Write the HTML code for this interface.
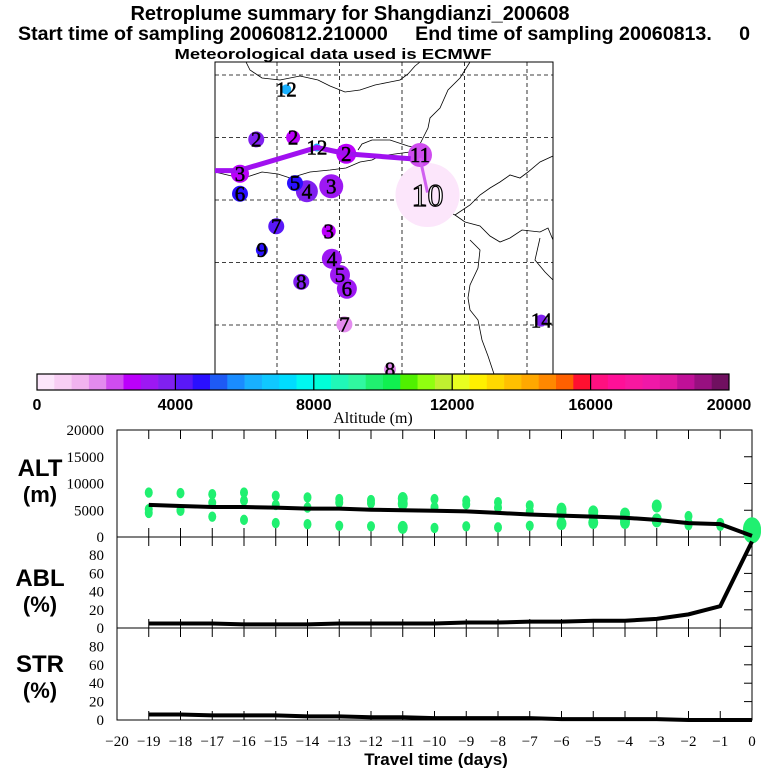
<!DOCTYPE html>
<html><head><meta charset="utf-8"><style>
html,body{margin:0;padding:0;background:#fff;}
svg{display:block;}
text{font-family:"Liberation Sans",sans-serif;}
.t{font-weight:bold;}
.s{font-family:"Liberation Serif",serif;}
</style></head><body>
<svg id="c" width="768" height="768" viewBox="0 0 768 768" xmlns="http://www.w3.org/2000/svg">
<rect width="768" height="768" fill="#fff"/>
<text class="t" x="350" y="20" font-size="20" text-anchor="middle">Retroplume summary for Shangdianzi_200608</text>
<text class="t" x="384" y="40" font-size="19" text-anchor="middle" textLength="732" lengthAdjust="spacingAndGlyphs" xml:space="preserve">Start time of sampling 20060812.210000     End time of sampling 20060813.     0</text>
<text class="t" x="333" y="59" font-size="15" text-anchor="middle" textLength="317" lengthAdjust="spacingAndGlyphs">Meteorological data used is ECMWF</text>
<g id="map"></g>
<g id="cbar"></g>
<g id="plots"></g>
</svg>
<script>
// ---- data ----
const cbColors=["#fce6fb","#f8cef4","#f1b3ef","#e38bee","#cf4cef","#bb00fb","#9d18f3","#8020f0",
"#5a18f8","#2a10ff","#1e5af5","#1a8cff","#18b0ff","#10c8ff","#00dcff","#00f8f0",
"#00ffd8","#20f8b8","#30f8a0","#20f070","#10f050","#50f000","#90ff10","#c0f030",
"#e8ff20","#fff000","#ffd800","#ffc000","#ffa800","#ff8800","#ff6000","#ff1030",
"#ff1080","#ff1098","#f818a0","#f018a8","#e018a0","#c01098","#981080","#701060"];
const cbTicks=[0,4000,8000,12000,16000,20000];
// map points in grid units (1 unit = one grid cell)
const ptLabel=["12","2","2","12","2","11","3","6","5","4","3","10","7","3","9","4","5","6","8","7","14","8"];
const ptGX=[1.14,0.66,1.25,1.63,2.10,3.28,0.40,0.40,1.28,1.47,1.86,3.40,0.98,1.82,0.75,1.87,2.00,2.11,1.38,2.07,5.22,2.80];
const ptGY=[4.65,3.85,3.88,3.72,3.62,3.60,3.30,2.98,3.15,3.02,3.10,2.96,2.46,2.38,2.08,1.94,1.68,1.46,1.57,0.89,0.95,0.17];
const ptAlt=[6200,3800,2800,6200,2500,2200,2500,4500,4500,3500,3300,200,4300,2500,4500,3000,3200,3000,3800,1900,3800,1800];
const ptR=[5,8,7,4,10,12,9,8,8,11,12,32,8,7,6,10,10,10,8,8,6,6];
const trajGX=[0,0.40,0.48,1.63,2.10,3.13];
const trajGY=[3.35,3.35,3.38,3.72,3.62,3.54];
// time series
const days=[-19,-18,-17,-16,-15,-14,-13,-12,-11,-10,-9,-8,-7,-6,-5,-4,-3,-2,-1,0];
const altMean=[6000,5800,5600,5600,5500,5300,5300,5100,5000,4900,4800,4500,4200,4000,3800,3600,3200,2600,2400,200];
const ablPct=[5,5,5,4,4,4,5,5,5,5,6,6,7,7,8,8,10,15,24,95];
const strPct=[6,6,5,5,5,4,4,3,3,2,2,2,2,1,1,1,1,0,0,0];
const dotHi=[8300,8200,8000,8300,7700,7400,7100,6900,7200,7100,6800,6500,5900,5200,4700,4300,5800,3900,2600,1500];
const dotMid=[5200,5000,6400,6800,6000,5500,6400,6300,6200,5600,6100,5500,4800,4500,4000,3200,3000,2700,2300,1000];
const dotLo=[4500,4900,3800,3200,2600,2400,2100,2000,1800,1700,2000,1800,2100,2500,2700,2700,3200,2200,2100,1300];
const dotR=[4,4,4,4,4,4,4,4,5,4,4,4,4,5,5,5,5,4,4,9];
const altTicks=[0,5000,10000,15000,20000];
const pctTicks=[0,20,40,60,80];
const dayTicks=[-20,-19,-18,-17,-16,-15,-14,-13,-12,-11,-10,-9,-8,-7,-6,-5,-4,-3,-2,-1,0];

const NS="http://www.w3.org/2000/svg";
function mk(tag,attrs,parent,txt){const e=document.createElementNS(NS,tag);for(const k in attrs)e.setAttribute(k,attrs[k]);if(txt!==undefined)e.textContent=txt;parent.appendChild(e);return e;}
function colorFor(a){let i=Math.floor(a/500);if(i<0)i=0;if(i>39)i=39;return cbColors[i];}

// ---- map ----
const map=document.getElementById('map');
const MX0=215,MX1=553,MY0=62,MY1=374,CELL=62.5;
const gx=g=>MX0+g*CELL, gy=g=>MY1-g*CELL+6;
mk('rect',{x:MX0,y:MY0,width:MX1-MX0,height:MY1-MY0,fill:'#fff',stroke:'#000','stroke-width':1},map);
const coasts=["M246,62 L250,70 L262,78 L280,80 L300,76 L318,80 L330,86 L345,92 L360,90 L375,85 L390,82 L400,80 L408,74 L415,66 L420,62",
"M470,62 L460,78 L448,90 L440,108 L430,118 L428,128 L422,140 L418,148 L408,146 L390,140 L372,140 L362,144 L358,150",
"M215,172 L240,178 L250,176 L262,172 L278,174 L290,178 L310,172 L330,170 L346,168 L360,162 L372,160 L380,156 L395,154 L410,152",
"M440,176 L450,184 L452,200 L445,210 L455,215 L470,205 L480,195 L490,188 L500,182 L510,175 L520,178 L528,172 L540,162 L553,156",
"M455,215 L465,222 L480,226 L490,236 L500,242 L510,238 L522,230 L540,232 L548,228 L553,240",
"M470,240 L480,250 L478,268 L470,285 L468,298 L470,310 L478,320 L482,340 L488,356 L494,374",
"M540,238 L535,260 L545,272 L553,280"];
coasts.forEach(d=>{const p=mk('path',{d:d,fill:'none',stroke:'#000','stroke-width':0.8},map);});
for(let i=1;i<=5;i++){const x=MX0+i*62.5-0.5;const l=mk('line',{x1:x,y1:MY0,x2:x,y2:MY1,stroke:'#000','stroke-dasharray':'4,3','stroke-width':0.8},map);}
for(let i=0;i<5;i++){const y=75+i*62.5;const l=mk('line',{x1:MX0,y1:y,x2:MX1,y2:y,stroke:'#000','stroke-dasharray':'4,3','stroke-width':0.8},map);}
const order=ptLabel.map((_,i)=>i).sort((a,b)=>ptR[b]-ptR[a]);
order.forEach(i=>{const c=mk('circle',{cx:gx(ptGX[i]),cy:gy(ptGY[i]),r:ptR[i],fill:colorFor(ptAlt[i])},map);});
let td="";trajGX.forEach((g,i)=>{td+=(i?"L":"M")+gx(g)+","+gy(trajGY[i])+" ";});
const tr=mk('path',{d:td,fill:'none',stroke:'#a010f0','stroke-width':5},map);


const tail=mk('line',{x1:gx(3.28),y1:gy(3.55),x2:gx(3.40),y2:gy(3.0),stroke:'#d060f0','stroke-width':3},map);


order.forEach(i=>{const big=ptR[i]>20;const t=mk('text',{x:gx(ptGX[i]),y:gy(ptGY[i])+(big?11:7),'font-size':big?32:21,'text-anchor':'middle',class:'s',fill:big?'#fff':'#000',stroke:'#000','stroke-width':big?1.2:0.5},map,ptLabel[i]);});

// ---- colorbar ----
const cb=document.getElementById('cbar');
const CX0=37,CX1=729,CY=374,CH=16;
const cbx=v=>CX0+(CX1-CX0)*v/20000;
cbColors.forEach((col,i)=>{const r=mk('rect',{x:cbx(i*500),y:CY,width:cbx((i+1)*500)-cbx(i*500)+0.3,height:CH,fill:col},cb);});
mk('rect',{x:CX0,y:CY,width:CX1-CX0,height:CH,fill:'none',stroke:'#000','stroke-width':1.2},cb);
cbTicks.forEach(v=>{if(v>0&&v<20000)mk('line',{x1:cbx(v),y1:CY,x2:cbx(v),y2:CY+CH,stroke:'#000','stroke-width':1.2},cb);
const t=mk('text',{x:cbx(v),y:410,'font-size':16,'text-anchor':'middle',class:'t'},cb,String(v));});
const at=mk('text',{x:373,y:423,'font-size':16,'text-anchor':'middle',class:'s'},cb,'Altitude (m)');



// ---- time series ----
const P=document.getElementById('plots');
const PX0=117,PX1=752;
const px=d=>PX0+(d+20)*(PX1-PX0)/20;
const panels=[{top:430,bot:537,max:20000,ticks:altTicks,name:'alt'},{top:537,bot:628,max:100,ticks:pctTicks,name:'abl'},{top:628,bot:720,max:100,ticks:pctTicks,name:'str'}];
panels.forEach(p=>{
  p.y=v=>p.bot-(p.bot-p.top)*v/p.max;
  mk('rect',{x:PX0,y:p.top,width:PX1-PX0,height:p.bot-p.top,fill:'none',stroke:'#000','stroke-width':1},P);
  dayTicks.forEach(d=>{mk('line',{x1:px(d),y1:p.bot,x2:px(d),y2:p.bot-9,stroke:'#000'},P);mk('line',{x1:px(d),y1:p.top,x2:px(d),y2:p.top+9,stroke:'#000'},P);});
  p.ticks.forEach(v=>{const y=p.y(v);mk('line',{x1:PX1,y1:y,x2:PX1-8,y2:y,stroke:'#000'},P);
    const t=mk('text',{x:104,y:y+5,'font-size':15,'text-anchor':'end',class:'s'},P,String(v));});
});
const alt=panels[0],abl=panels[1],str=panels[2];
[dotHi,dotMid,dotLo].forEach(arr=>{days.forEach((d,i)=>{const c=mk('ellipse',{cx:px(d),cy:alt.y(arr[i]),rx:dotR[i],ry:dotR[i]*1.3,fill:'#20f070'},P);});});
function line(p,vals,name){let d="";days.forEach((dd,i)=>{d+=(i?"L":"M")+px(dd)+","+p.y(vals[i])+" ";});const l=mk('path',{d:d,fill:'none',stroke:'#000','stroke-width':4},P);}
line(alt,altMean,'altitude-mean-line');line(abl,ablPct,'abl-line');line(str,strPct,'str-line');
[["ALT",476,"(m)",502,'alt'],["ABL",586,"(%)",612,'abl'],["STR",672,"(%)",698,'str']].forEach(a=>{
  const t1=mk('text',{x:40,y:a[1],'font-size':24,'text-anchor':'middle',class:'t'},P,a[0]);
  const t2=mk('text',{x:40,y:a[3],'font-size':22,'text-anchor':'middle',class:'t'},P,a[2]);});
dayTicks.forEach(d=>{const t=mk('text',{x:px(d),y:746,'font-size':15,'text-anchor':'middle',class:'s'},P,d<0?'\u2212'+(-d):String(d));});
const xt=mk('text',{x:436,y:765,'font-size':17,'text-anchor':'middle',class:'t'},P,'Travel time (days)');


</script>
</body></html>
